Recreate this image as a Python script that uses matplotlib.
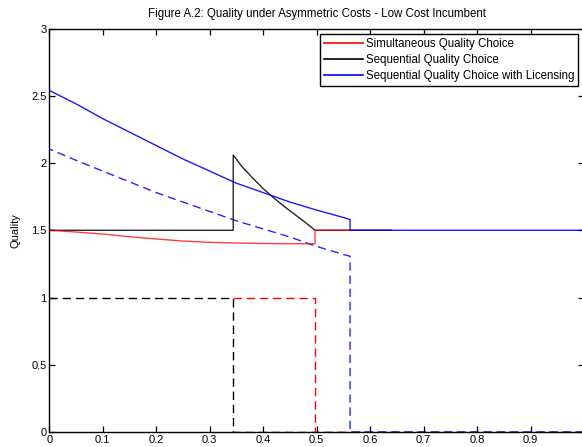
import matplotlib
matplotlib.use("Agg")
import matplotlib.pyplot as plt

plt.rcParams['font.family'] = ['Liberation Sans', 'DejaVu Sans']

# --- data -------------------------------------------------------------
# cost parameter grid points and quality levels
simul_x = [0.0, 0.05, 0.1, 0.15, 0.2, 0.25, 0.3, 0.35, 0.4, 0.45, 0.497, 0.497, 0.64]
simul_q = [1.5, 1.487, 1.472, 1.452, 1.435, 1.42, 1.41, 1.405, 1.402, 1.40, 1.40, 1.5, 1.5]

seq_x = [0.0, 0.344, 0.344, 0.36, 0.38, 0.40, 0.42, 0.44, 0.46, 0.48, 0.497, 0.64]
seq_q = [1.5, 1.5, 2.06, 1.975, 1.89, 1.81, 1.74, 1.675, 1.615, 1.555, 1.5, 1.5]

lic_x = [0.0, 0.05, 0.1, 0.15, 0.2, 0.25, 0.3, 0.35, 0.4, 0.45, 0.5, 0.55, 0.5625, 0.5625, 1.0]
lic_q = [2.54, 2.44, 2.33, 2.23, 2.13, 2.03, 1.94, 1.85, 1.78, 1.71, 1.65, 1.595, 1.58, 1.5, 1.5]

# entrant quality (dashed)
simul_ent_x = [0.344, 0.497, 0.497, 1.0]
simul_ent_q = [1.0, 1.0, 0.0, 0.0]

seq_ent_x = [0.0, 0.344, 0.344, 1.0]
seq_ent_q = [1.0, 1.0, 0.0, 0.0]

lic_ent_x = [0.0, 0.05, 0.1, 0.15, 0.2, 0.25, 0.3, 0.35, 0.4, 0.45, 0.5, 0.55, 0.5625, 0.5625, 1.0]
lic_ent_q = [2.105, 2.02, 1.94, 1.86, 1.78, 1.71, 1.64, 1.57, 1.51, 1.45, 1.38, 1.32, 1.307, 0.0, 0.0]

x_ticks = [0, 0.1, 0.2, 0.3, 0.4, 0.5, 0.6, 0.7, 0.8, 0.9, 1.0]
x_tick_labels = ['0', '0.1', '0.2', '0.3', '0.4', '0.5', '0.6', '0.7', '0.8', '0.9', '']
y_ticks = [0, 0.5, 1, 1.5, 2, 2.5, 3]
y_tick_labels = ['0', '0.5', '1', '1.5', '2', '2.5', '3']

series_names = ['Simultaneous Quality Choice',
                'Sequential Quality Choice',
                'Sequential Quality Choice with Licensing']

# --- figure -----------------------------------------------------------
fig = plt.figure(figsize=(5.82, 4.47), dpi=100)
ax = fig.add_axes([0.0847, 0.0336, 0.9187, 0.9025])

fs = 8.0
lw = 1.0
dash = (0, (6, 3.5))

ax.plot(seq_ent_x, seq_ent_q, color='black', lw=lw, linestyle=dash)
ax.plot(simul_ent_x, simul_ent_q, color='red', lw=lw, linestyle=dash)
ax.plot(lic_ent_x, lic_ent_q, color='blue', lw=lw, linestyle=(3, (6, 3.5)), alpha=0.85)

l2, = ax.plot(seq_x, seq_q, color='black', lw=lw, label=series_names[1], alpha=0.85)
l1, = ax.plot(simul_x, simul_q, color='red', lw=lw, label=series_names[0], alpha=0.75)
l3, = ax.plot(lic_x, lic_q, color='blue', lw=lw, label=series_names[2], alpha=0.9)

ax.set_xlim(0, 1)
ax.set_ylim(0, 3)
ax.set_xticks(x_ticks)
ax.set_xticklabels(x_tick_labels)
ax.set_yticks(y_ticks)
ax.set_yticklabels(y_tick_labels)
ax.tick_params(direction='in', length=4, width=0.9, labelsize=fs,
               top=True, right=True, pad=2, colors='black')
for s in ax.spines.values():
    s.set_linewidth(1.0)

ax.set_ylabel('Quality', fontsize=fs, labelpad=8)
ax.set_title('Figure A.2: Quality under Asymmetric Costs - Low Cost Incumbent',
             fontsize=fs + 0.3, pad=8)

leg = ax.legend(handles=[l1, l2, l3], loc='upper right', fontsize=fs + 0.3,
                frameon=True, fancybox=False, framealpha=1, edgecolor='black',
                handlelength=3.4, handletextpad=0.2, borderpad=0.35,
                labelspacing=0.35, borderaxespad=0.5)
leg.get_frame().set_linewidth(1.0)
for h in leg.get_lines():
    h.set_alpha(1)
    h.set_linewidth(1.2)

fig.savefig('out.png', dpi=100)
